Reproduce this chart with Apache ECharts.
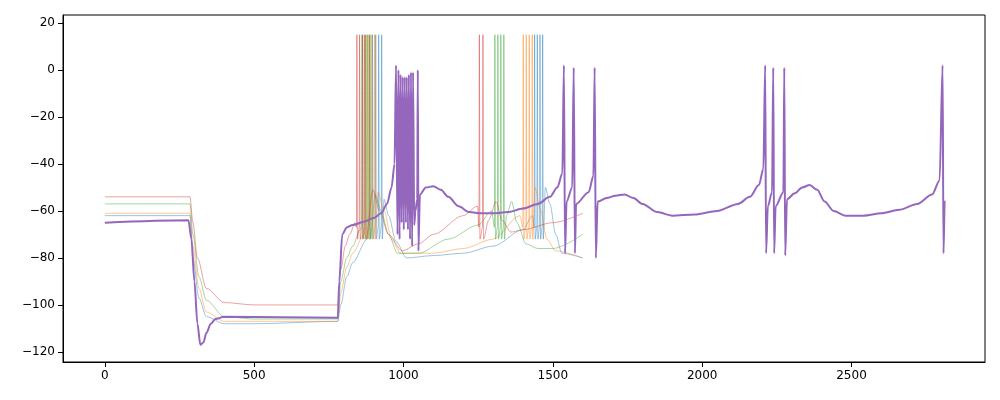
<!DOCTYPE html>
<html><head><meta charset="utf-8">
<script src="https://cdn.jsdelivr.net/npm/echarts@6/dist/echarts.min.js"></script>
<style>html,body{margin:0;padding:0;background:#fff}#c{width:1000px;height:400px}</style>
</head><body><div id="c"></div>
<script>
// thin traces: slow baseline points and spike times
const redBase = [[0,-54],[285,-54],[295,-65],[310,-80],[340,-93],[400,-99],[500,-100],[780,-100],[790,-85],[805,-75],[820,-70],[838,-65],[898,-51],[920,-60],[950,-70],[995,-77],[1050,-74],[1100,-70],[1200,-62],[1248,-58],[1285,-64],[1310,-56],[1330,-64],[1360,-69],[1400,-68],[1500,-65],[1600,-61]];
const redSpikes = [843,852,862,871,1253,1265];
const greenBase = [[0,-57],[285,-57],[295,-70],[315,-88],[340,-98],[400,-105],[500,-106],[780,-106],[790,-90],[810,-80],[830,-75],[855,-68],[905,-53],[925,-60],[950,-70],[980,-78],[1050,-78],[1150,-72],[1250,-66],[1295,-60],[1345,-62],[1362,-56],[1380,-65],[1410,-74],[1450,-76],[1500,-76],[1600,-70]];
const greenSpikes = [860,868,878,887,1305,1315,1325,1335];
const orangeBase = [[0,-61],[285,-61],[295,-75],[315,-93],[340,-103],[400,-107],[500,-107],[780,-107],[790,-95],[810,-84],[830,-78],[868,-70],[915,-52],[935,-60],[960,-72],[990,-78],[1100,-78],[1200,-76],[1300,-72],[1390,-62],[1440,-50],[1460,-60],[1480,-72],[1510,-77],[1600,-80]];
const orangeSpikes = [874,883,893,902,1400,1410,1420,1430];
const blueBase = [[0,-62],[285,-62],[295,-80],[315,-97],[340,-105],[400,-108],[500,-108],[780,-107],[790,-100],[810,-88],[830,-82],[878,-72],[935,-55],[950,-62],[975,-73],[1010,-80],[1100,-79],[1200,-78],[1300,-75],[1400,-68],[1432,-62],[1475,-50],[1490,-57],[1510,-70],[1530,-78],[1600,-80]];
const blueSpikes = [885,895,906,916,926,1438,1447,1456,1465];
const spikePeak = 15, spikeTrough = -72;

// main (purple) trace
const purple = [[0,-65],[280,-64],[290,-72],[300,-90],[310,-108],[320,-117],[330,-116],[340,-112],[355,-108],[370,-106],[400,-105],[780,-105.5],[785,-90],[795,-70],[810,-67],[830,-66],[870,-64.5],[900,-63],[925,-61],[945,-57],[960,-50],[970,-40],[975,2],
 [980,-70],[983,0],[987,-72],[990,-2],[994,-65],[997,-3],[1001,-68],[1004,-3],[1008,-65],[1011,-3],[1015,-68],[1018,-2],[1022,-72],[1025,-1],[1029,-75],[1032,-1],[1036,-66],[1040,-60],[1046,-55],[1048,0],[1050,-77],[1055,-53],[1075,-50],[1100,-49.5],[1125,-51],[1150,-54],[1185,-58],[1220,-60.5],[1260,-61],[1300,-61],[1350,-60.5],[1400,-59],[1450,-57],[1490,-54],[1515,-50],[1532,-44],[1537,2],[1541,-78],[1546,-56],[1565,-50],[1570,1],[1574,-78],[1578,-57],[1620,-52],[1636,-45],[1640,1],[1644,-80],[1650,-56],[1680,-54.5],[1710,-53.5],[1740,-53],[1770,-54.5],[1800,-57],[1850,-60.5],[1900,-62],[1975,-61.5],[2050,-60],[2120,-57],[2160,-54],[2190,-49],[2205,-42],[2211,2],[2214,-78],[2220,-58],[2234,-52],[2238,1],[2241,-78],[2246,-58],[2272,-52],[2275,1],[2278,-79],[2284,-55],[2310,-52.5],[2335,-50],[2360,-49],[2385,-51],[2410,-56],[2440,-60],[2480,-62],[2540,-62],[2600,-61],[2660,-59.5],[2720,-57],[2770,-53],[2795,-47],[2805,2],[2808,-78],[2812,-56],[2815,-56]];

function merge(base, spikes) {
  const pts = base.slice();
  spikes.forEach(t => { pts.push([t - 0.5, spikeTrough + 5], [t + 1, spikePeak], [t + 3, spikeTrough]); });
  return pts.sort((a, b) => a[0] - b[0]);
}
const thin = (name, color, data) => ({
  name, type: 'line', data, showSymbol: false, smooth: 0.3, smoothMonotone: 'x',
  lineStyle: { color, width: 0.8, opacity: 0.55 }
});
const chart = echarts.init(document.getElementById('c'));
chart.setOption({
  animation: false,
  grid: { left: 63, right: 15, top: 15, bottom: 38, show: true, borderColor: '#000', borderWidth: 1 },
  xAxis: { type: 'value', min: -140, max: 2947, splitLine: { show: false },
    axisLine: { onZero: false, lineStyle: { color: '#000' } }, axisTick: { customValues: [0,500,1000,1500,2000,2500], lineStyle: { color: '#000' } },
    axisLabel: { customValues: [0,500,1000,1500,2000,2500], color: '#000', fontSize: 12, fontFamily: 'DejaVu Sans', formatter: v => String(v) } },
  yAxis: { type: 'value', min: -124.3, max: 23.4, splitLine: { show: false },
    axisLine: { show: true, onZero: false, lineStyle: { color: '#000' } }, axisTick: { show: true, customValues: [-120,-100,-80,-60,-40,-20,0,20], lineStyle: { color: '#000' } },
    axisLabel: { customValues: [-120,-100,-80,-60,-40,-20,0,20], color: '#000', fontSize: 12, fontFamily: 'DejaVu Sans',
      formatter: v => String(v).replace('-', '\u2212') } },
  series: [
    thin('blue', '#1f77b4', merge(blueBase, blueSpikes)),
    thin('orange', '#ff7f0e', merge(orangeBase, orangeSpikes)),
    thin('green', '#2ca02c', merge(greenBase, greenSpikes)),
    thin('red', '#d62728', merge(redBase, redSpikes)),
    { name: 'main', type: 'line', data: purple, showSymbol: false, smooth: 0.3, smoothMonotone: 'x', lineStyle: { color: '#9467bd', width: 2 } }
  ]
});
</script></body></html>
